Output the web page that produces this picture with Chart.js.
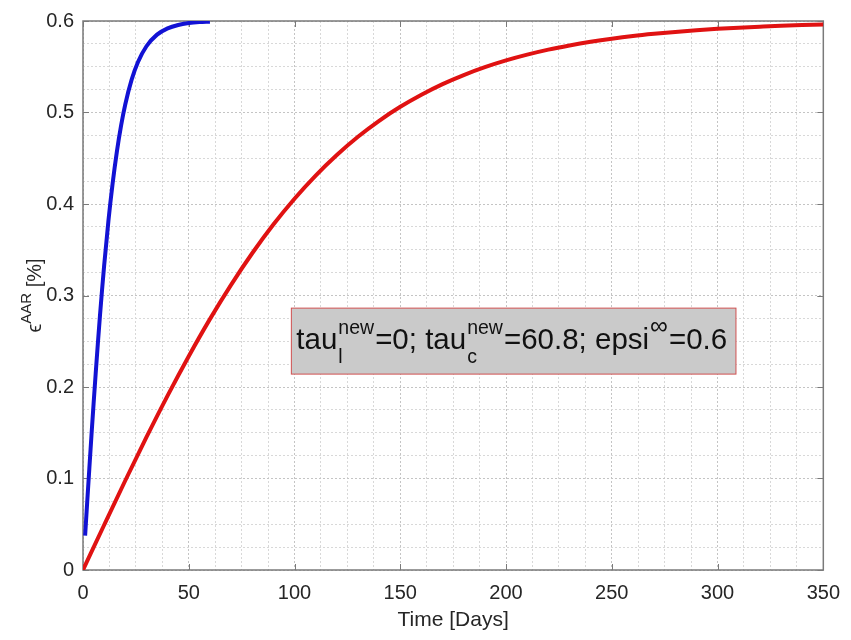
<!DOCTYPE html>
<html>
<head>
<meta charset="utf-8">
<script src="https://cdn.jsdelivr.net/npm/chart.js@4.4.0/dist/chart.umd.min.js"></script>
<style>
    html, body { margin: 0; padding: 0; background: #fff; }
</style>
</head>
<body>
<canvas id="myChart" width="851" height="640"></canvas>
<script>
// values
const blueDays = [1, 2, 3, 4, 5, 6, 7, 8, 9, 10, 12, 14, 16, 18, 20, 23, 26, 30, 35, 40, 45, 50, 55, 60];
const blueStrain = [0.0375, 0.0746, 0.1112, 0.1470, 0.1816, 0.2150, 0.2469, 0.2773, 0.3059, 0.3328, 0.3811, 0.4223,
    0.4570, 0.4856, 0.5090, 0.5359, 0.5552, 0.5724, 0.5851, 0.5920, 0.5957, 0.5977, 0.5988, 0.5993];

const redDays = [0, 10, 20, 30, 40, 50, 60, 70, 80, 90, 100, 110, 120, 130, 140, 150, 160, 170,
    180, 190, 200, 210, 220, 230, 240, 250, 260, 270, 280, 290, 300, 310, 320, 330, 340, 350];
const redStrain = [0, 0.0492, 0.0978, 0.1451, 0.1906, 0.2337, 0.2742, 0.3117, 0.3462, 0.3776, 0.4058, 0.4311,
    0.4536, 0.4735, 0.4909, 0.5062, 0.5194, 0.5310, 0.5409, 0.5495, 0.5569, 0.5632, 0.5687, 0.5733, 0.5773, 0.5807,
    0.5836, 0.5860, 0.5881, 0.5899, 0.5914, 0.5927, 0.5938, 0.5948, 0.5955, 0.5962];

const xTicks = [0, 50, 100, 150, 200, 250, 300, 350];
const yTicks = [0, 0.1, 0.2, 0.3, 0.4, 0.5, 0.6];

// annotation text pieces: main text, then superscript / subscript
const boxPieces = [
    { text: 'tau' }, { sup: 'new', sub: 'l' },
    { text: '=0; tau' }, { sup: 'new', sub: 'c' },
    { text: '=60.8; epsi' }, { sup: '\u221e' },
    { text: '=0.6' }
];

const textColor = '#262626';
const axisColor = '#7a7a7a';
const fontFam = '"Liberation Sans", Arial, sans-serif';

function isMajor(v, list) {
    return list.some(t => Math.abs(t - v) < 1e-6);
}

function toPoints(xs, ys) {
    return xs.map((x, i) => ({ x: x, y: ys[i] }));
}

// frame and inward ticks (MATLAB style box)
const framePlugin = {
    id: 'frame',
    beforeDatasetsDraw(chart) {
        const { ctx, chartArea: a, scales } = chart;
        ctx.save();
        ctx.strokeStyle = axisColor;
        ctx.lineWidth = 1.5;
        ctx.strokeRect(a.left, a.top, a.right - a.left, a.bottom - a.top);
        ctx.lineWidth = 1;
        ctx.beginPath();
        xTicks.forEach(v => {
            const px = Math.round(scales.x.getPixelForValue(v)) + 0.5;
            ctx.moveTo(px, a.bottom); ctx.lineTo(px, a.bottom - 6);
            ctx.moveTo(px, a.top); ctx.lineTo(px, a.top + 6);
        });
        yTicks.forEach(v => {
            const py = Math.round(scales.y.getPixelForValue(v)) + 0.5;
            ctx.moveTo(a.left, py); ctx.lineTo(a.left + 6, py);
            ctx.moveTo(a.right, py); ctx.lineTo(a.right - 6, py);
        });
        ctx.stroke();
        ctx.restore();
    }
};

// y axis title with superscript
const yTitlePlugin = {
    id: 'yTitle',
    afterDraw(chart) {
        const { ctx, chartArea: a } = chart;
        const big = '20px ' + fontFam;
        const small = '15px ' + fontFam;
        ctx.save();
        ctx.fillStyle = textColor;
        ctx.textBaseline = 'alphabetic';
        ctx.font = big;
        const w1 = ctx.measureText('\u03f5').width;
        const w3 = ctx.measureText(' [%]').width;
        ctx.font = small;
        const w2 = ctx.measureText('AAR').width;
        const total = w1 + w2 + w3;
        ctx.translate(41, (a.top + a.bottom) / 2);
        ctx.rotate(-Math.PI / 2);
        let x = -total / 2;
        ctx.font = big;
        ctx.fillText('\u03f5', x, 0);
        x += w1;
        ctx.font = small;
        ctx.fillText('AAR', x, -10);
        x += w2;
        ctx.font = big;
        ctx.fillText(' [%]', x, 0);
        ctx.restore();
    }
};

// grey text box inside the plot
const boxPlugin = {
    id: 'textBox',
    afterDatasetsDraw(chart) {
        const { ctx, scales } = chart;
        const left = scales.x.getPixelForValue(98.5);
        const right = scales.x.getPixelForValue(308.7);
        const top = scales.y.getPixelForValue(0.2862);
        const bottom = scales.y.getPixelForValue(0.2141);
        ctx.save();
        ctx.fillStyle = '#cacaca';
        ctx.fillRect(left, top, right - left, bottom - top);
        ctx.strokeStyle = '#d05050';
        ctx.lineWidth = 1;
        ctx.strokeRect(left, top, right - left, bottom - top);

        const mainFont = '29.5px ' + fontFam;
        const scriptFont = '19.5px ' + fontFam;
        const base = top + 41;
        let x = left + 5;
        ctx.fillStyle = '#111';
        ctx.textBaseline = 'alphabetic';
        boxPieces.forEach(p => {
            if (p.text) {
                ctx.font = mainFont;
                ctx.fillText(p.text, x, base);
                x += ctx.measureText(p.text).width;
            } else {
                let w = 0;
                if (p.sup) {
                    ctx.font = p.sup === '\u221e' ? '25px ' + fontFam : scriptFont;
                    ctx.fillText(p.sup, x + 1, base - 15);
                    w = Math.max(w, ctx.measureText(p.sup).width + 2);
                }
                if (p.sub) {
                    ctx.font = scriptFont;
                    ctx.fillText(p.sub, x + 1, base + 14);
                    w = Math.max(w, ctx.measureText(p.sub).width + 2);
                }
                x += w;
            }
        });
        ctx.restore();
    }
};

const data = {
    datasets: [{
        label: 'fast',
        data: toPoints(blueDays, blueStrain),
        borderColor: '#1212d4',
        borderWidth: 4,
        pointRadius: 0,
        cubicInterpolationMode: 'monotone'
    }, {
        label: 'slow',
        data: toPoints(redDays, redStrain),
        borderColor: '#e01212',
        borderWidth: 4,
        pointRadius: 0,
        cubicInterpolationMode: 'monotone'
    }]
};

const config = {
    type: 'line',
    data,
    options: {
        responsive: false,
        animation: false,
        layout: { padding: { top: 18, right: 23, left: 0, bottom: 0 } },
        plugins: {
            legend: { display: false },
            tooltip: { enabled: false }
        },
        scales: {
            x: {
                type: 'linear',
                min: 0,
                max: 350,
                afterFit: s => { s.height = 70; },
                ticks: {
                    stepSize: 12.5,
                    autoSkip: false,
                    maxRotation: 0,
                    padding: 11,
                    color: textColor,
                    font: { family: fontFam, size: 20 },
                    callback: v => isMajor(v, xTicks) ? String(v) : ''
                },
                grid: {
                    drawTicks: false,
                    lineWidth: 1,
                    color: c => isMajor(c.tick.value, xTicks) ? '#c4c4c4' : '#d8d8d8'
                },
                border: { display: false, dash: [2, 2] },
                title: {
                    display: true,
                    text: 'Time [Days]',
                    color: textColor,
                    font: { family: fontFam, size: 21 },
                    padding: { top: 0, bottom: 7 }
                }
            },
            y: {
                min: 0,
                max: 0.6,
                afterFit: s => { s.width = 83; },
                ticks: {
                    stepSize: 0.025,
                    autoSkip: false,
                    padding: 9,
                    color: textColor,
                    font: { family: fontFam, size: 20 },
                    callback: v => isMajor(v, yTicks) ? String(Math.round(v * 10) / 10) : ''
                },
                grid: {
                    drawTicks: false,
                    lineWidth: 1,
                    color: c => isMajor(c.tick.value, yTicks) ? '#c4c4c4' : '#d8d8d8'
                },
                border: { display: false, dash: [2, 2] }
            }
        }
    },
    plugins: [framePlugin, boxPlugin, yTitlePlugin]
};

// render init block
const myChart = new Chart(document.getElementById('myChart'), config);
</script>
</body>
</html>
